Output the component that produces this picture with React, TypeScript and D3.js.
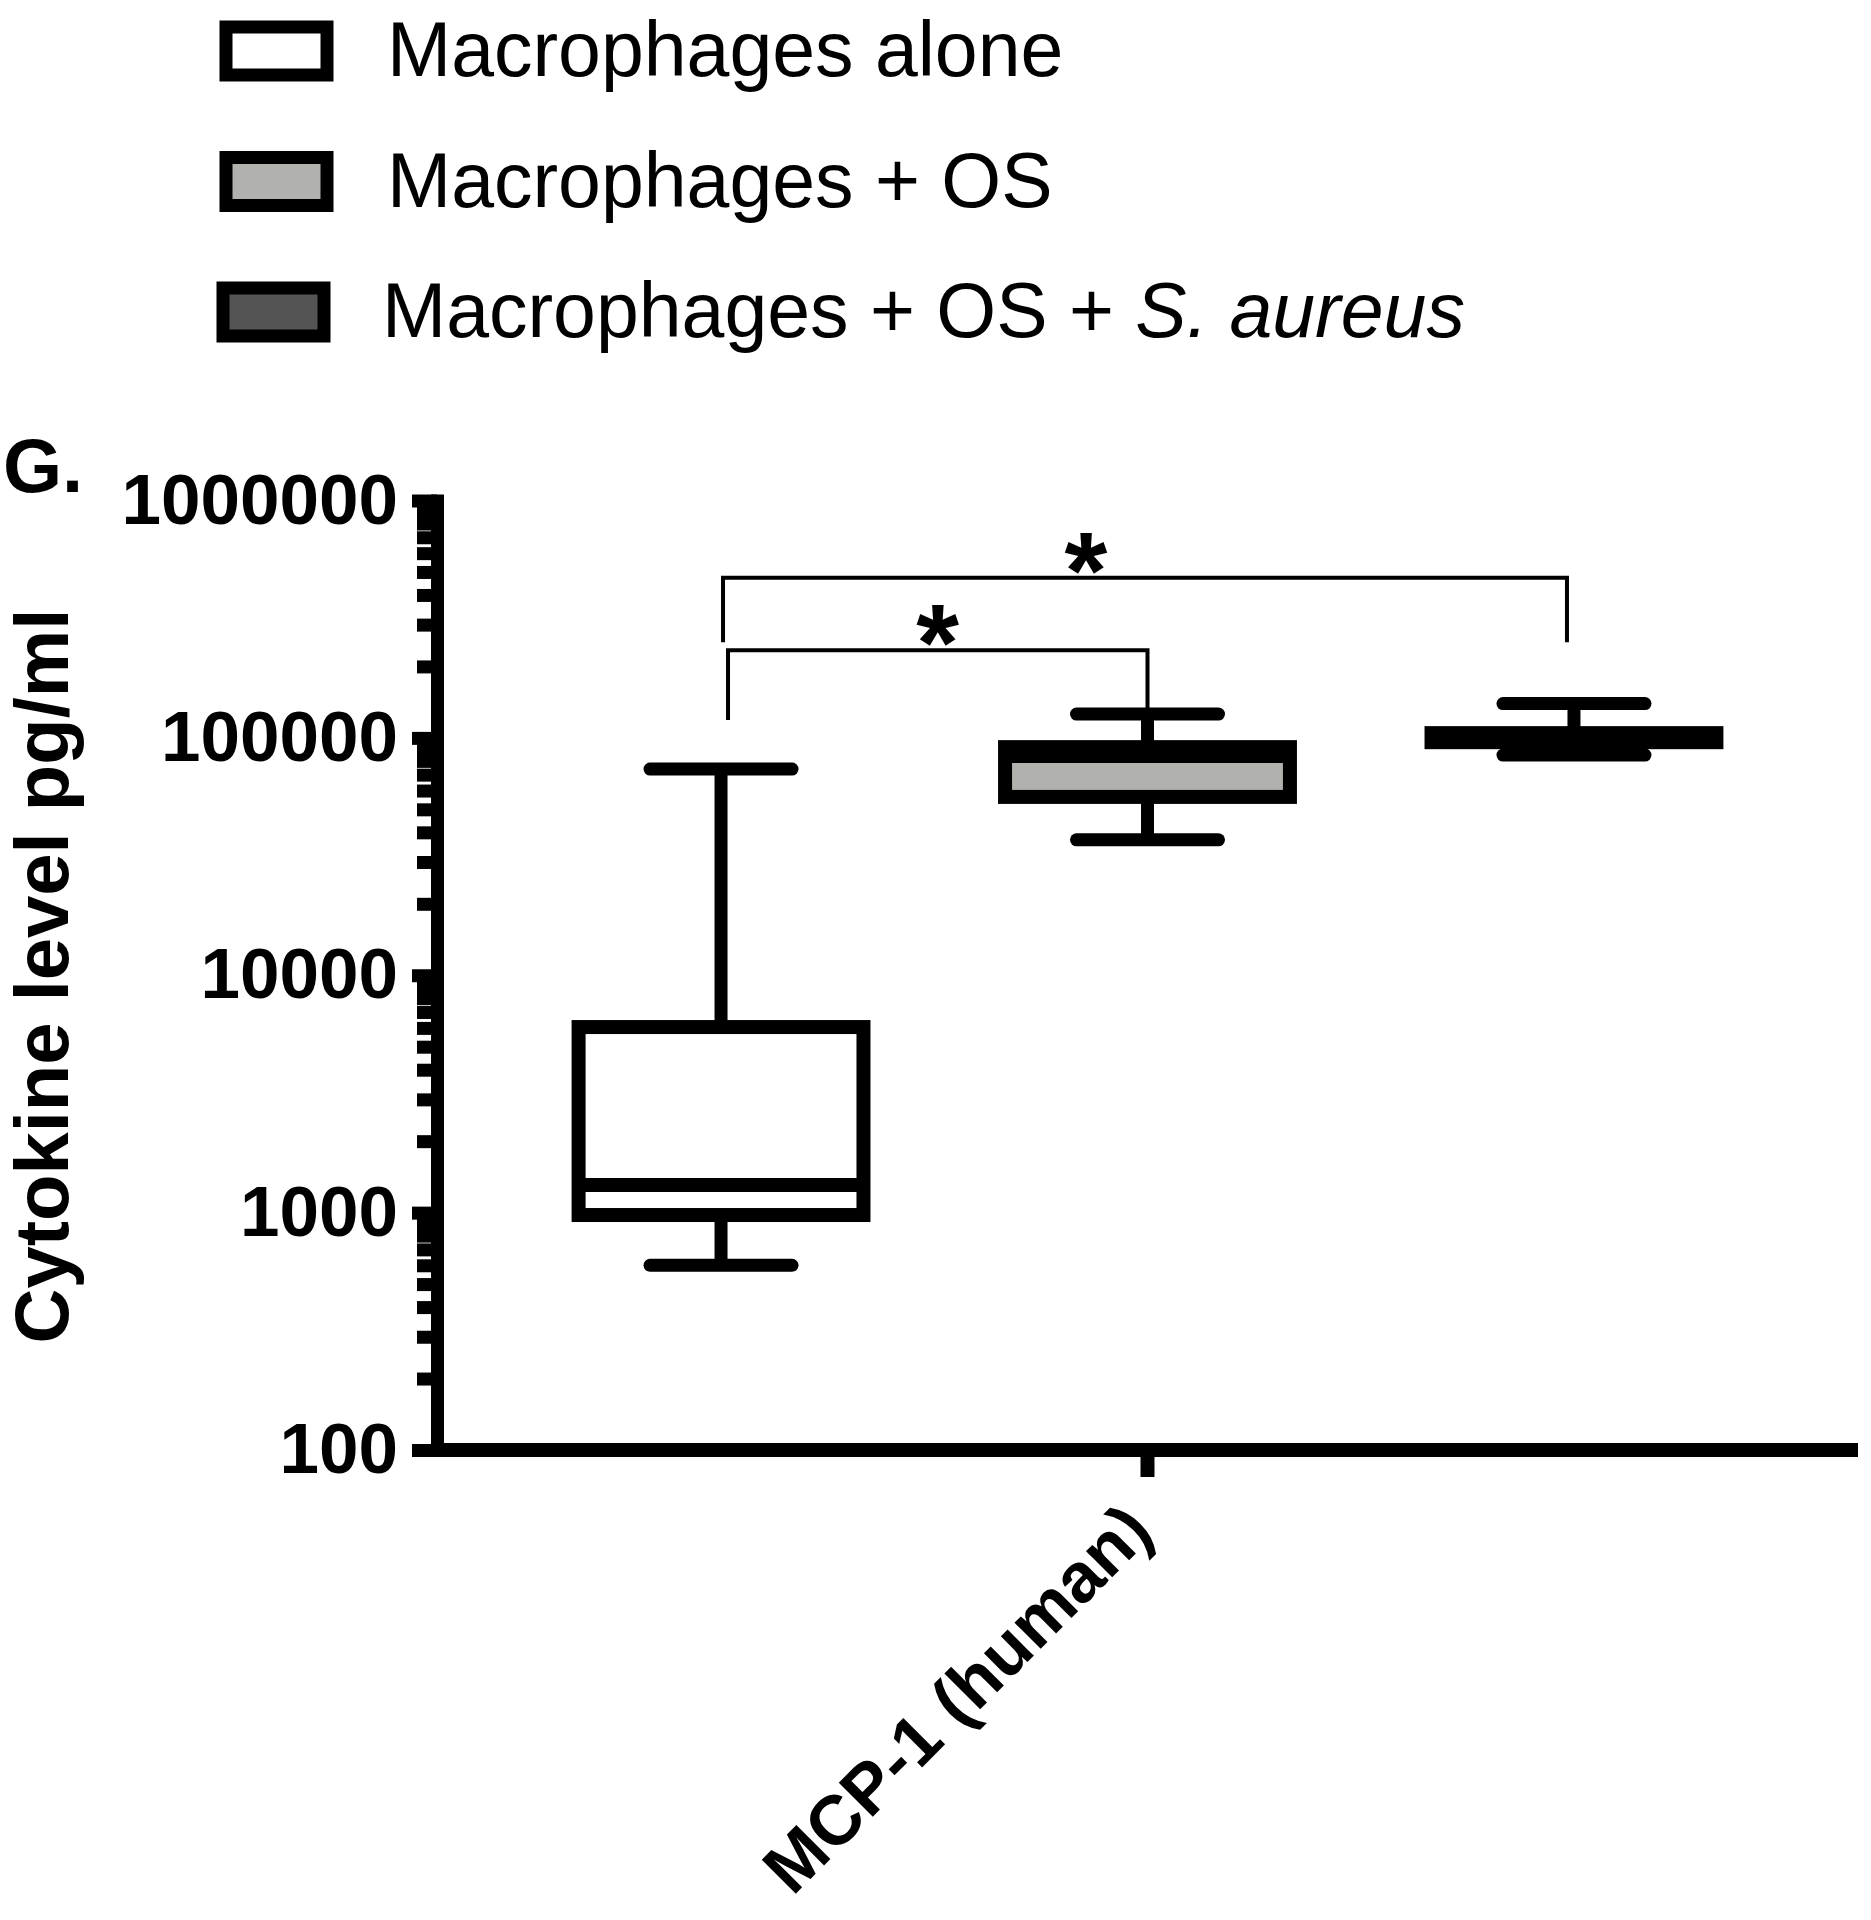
import React, { useEffect, useRef } from "react";
import * as d3 from "d3";

// groups in the legend / box order
const groups = ["Macrophages alone", "Macrophages + OS", "Macrophages + OS + S. aureus"];
const fills = ["#ffffff", "#b1b1ad", "#545454"];
const category = "MCP-1 (human)";

// box plot stats, pg/ml
const whiskerLow = [600, 37200, 84600];
const q1 = [977, 56400, 95900];
const median = [1306, 83800, 100000];
const q3 = [6050, 91400, 104700];
const whiskerHigh = [73900, 126000, 139500];

const majorTicks = [100, 1000, 10000, 100000, 1000000];

// significance brackets: group pairs, bracket top and leg ends (in pg/ml units)
const sigPairs = [[0, 1], [0, 2]];
const sigTop = [234000, 473000];
const sigLegEnd = [[119000, 126000], [253000, 253000]];
const sigStarAt = [0.5, 0.43];

const W = 1871;
const H = 1920;
const axisX = 437;
const axisRight = 1858;
const font = "'Liberation Sans', Arial, sans-serif";

const App = () => {
  const yAxisRef = useRef<SVGGElement>(null);

  const y = d3.scaleLog().domain([100, 1000000]).range([1450, 500.5]);
  const xCat = d3.scaleBand().domain([category]).range([axisX, axisRight]);
  const xGroup = d3
    .scaleBand()
    .domain(groups)
    .range([axisX, axisRight])
    .paddingInner(0)
    .paddingOuter(0.166);

  const cx = (i: number) => (xGroup(groups[i]) as number) + xGroup.bandwidth() / 2;
  const boxW = xGroup.bandwidth() * 0.668;
  const capHalf = 71;

  useEffect(() => {
    const g = d3.select(yAxisRef.current);
    g.selectAll("*").remove();

    const minor: number[] = [];
    majorTicks.slice(0, -1).forEach((d) => {
      for (let k = 2; k < 10; k++) minor.push(d * k);
    });

    //minor ticks, no labels
    const minorG = g.append("g").call(
      d3.axisLeft(y).tickValues(minor).tickSize(20).tickSizeOuter(0).tickFormat(() => "")
    );
    minorG.select(".domain").remove();
    minorG.selectAll(".tick line").attr("stroke-width", 13);

    const majorG = g.append("g").call(
      d3
        .axisLeft(y)
        .tickValues(majorTicks)
        .tickSize(25)
        .tickSizeOuter(0)
        .tickPadding(14)
        .tickFormat(d3.format("d") as any)
    );
    majorG.select(".domain").attr("stroke-width", 13).attr("stroke-linecap", "square");
    majorG.selectAll(".tick line").attr("stroke-width", 13);
    majorG
      .selectAll(".tick text")
      .attr("font-family", font)
      .attr("font-weight", "bold")
      .attr("font-size", 71)
      .attr("fill", "#000");
  }, []);

  const catX = (xCat(category) as number) + xCat.bandwidth() / 2;

  return (
    <svg
      width={W}
      height={H}
      style={{ position: "absolute", left: 0, top: 0, background: "#fff" }}
    >
      {/* legend */}
      {groups.map((name, i) => (
        <g key={name} transform={`translate(0, ${51 + i * 130.5})`}>
          <rect
            x={226 - (i === 2 ? 3 : 0)}
            y={-24}
            width={101}
            height={48}
            fill={fills[i]}
            stroke="#000"
            strokeWidth={13}
          />
          <text
            x={387 - (i === 2 ? 5 : 0)}
            y={25}
            fontFamily={font}
            fontSize={77}
            fill="#000"
          >
            {i === 2 ? (
              <>
                Macrophages + OS + <tspan fontStyle="italic">S. aureus</tspan>
              </>
            ) : (
              name
            )}
          </text>
        </g>
      ))}

      {/* panel letter */}
      <text x={3} y={492} fontFamily={font} fontWeight="bold" fontSize={76}>
        G.
      </text>

      {/* y axis title */}
      <text
        transform="translate(68, 976) rotate(-90)"
        textAnchor="middle"
        fontFamily={font}
        fontWeight="bold"
        fontSize={76}
      >
        Cytokine level pg/ml
      </text>

      {/* x axis */}
      <line x1={axisX} x2={axisRight} y1={y(100)} y2={y(100)} stroke="#000" strokeWidth={14} />
      <line x1={catX} x2={catX} y1={y(100)} y2={y(100) + 27} stroke="#000" strokeWidth={14} />
      <text
        transform={`translate(${catX + 8}, ${y(100) + 84}) rotate(-45)`}
        textAnchor="end"
        fontFamily={font}
        fontWeight="bold"
        fontSize={70}
      >
        {category}
      </text>

      {/* boxes */}
      {groups.map((name, i) => {
        const c = cx(i);
        return (
          <g key={name}>
            <line x1={c} x2={c} y1={y(whiskerHigh[i])} y2={y(q3[i])} stroke="#000" strokeWidth={13} />
            <line x1={c} x2={c} y1={y(q1[i])} y2={y(whiskerLow[i])} stroke="#000" strokeWidth={13} />
            <line
              x1={c - capHalf}
              x2={c + capHalf}
              y1={y(whiskerHigh[i])}
              y2={y(whiskerHigh[i])}
              stroke="#000"
              strokeWidth={13}
              strokeLinecap="round"
            />
            <line
              x1={c - capHalf}
              x2={c + capHalf}
              y1={y(whiskerLow[i])}
              y2={y(whiskerLow[i])}
              stroke="#000"
              strokeWidth={13}
              strokeLinecap="round"
            />
            <rect
              x={c - boxW / 2}
              y={y(q3[i])}
              width={boxW}
              height={y(q1[i]) - y(q3[i])}
              fill={fills[i]}
              stroke="#000"
              strokeWidth={14}
            />
            <line
              x1={c - boxW / 2}
              x2={c + boxW / 2}
              y1={y(median[i])}
              y2={y(median[i])}
              stroke="#000"
              strokeWidth={14}
            />
          </g>
        );
      })}

      {/* significance brackets */}
      {sigPairs.map(([a, b], k) => {
        const xa = cx(a) + (k === 0 ? 7 : 2);
        const xb = cx(b) - (k === 0 ? 0 : 7);
        const top = y(sigTop[k]);
        const sx = xa + (xb - xa) * sigStarAt[k];
        return (
          <g key={k}>
            <path
              d={`M${xa},${y(sigLegEnd[k][0])}V${top}H${xb}V${y(sigLegEnd[k][1])}`}
              fill="none"
              stroke="#000"
              strokeWidth={4}
            />
            <text
              x={sx}
              y={top - 30 + 60}
              textAnchor="middle"
              fontFamily={font}
              fontWeight="bold"
              fontSize={110}
            >
              *
            </text>
          </g>
        );
      })}

      <g ref={yAxisRef} transform={`translate(${axisX}, 0)`} />
    </svg>
  );
};

export default App;
